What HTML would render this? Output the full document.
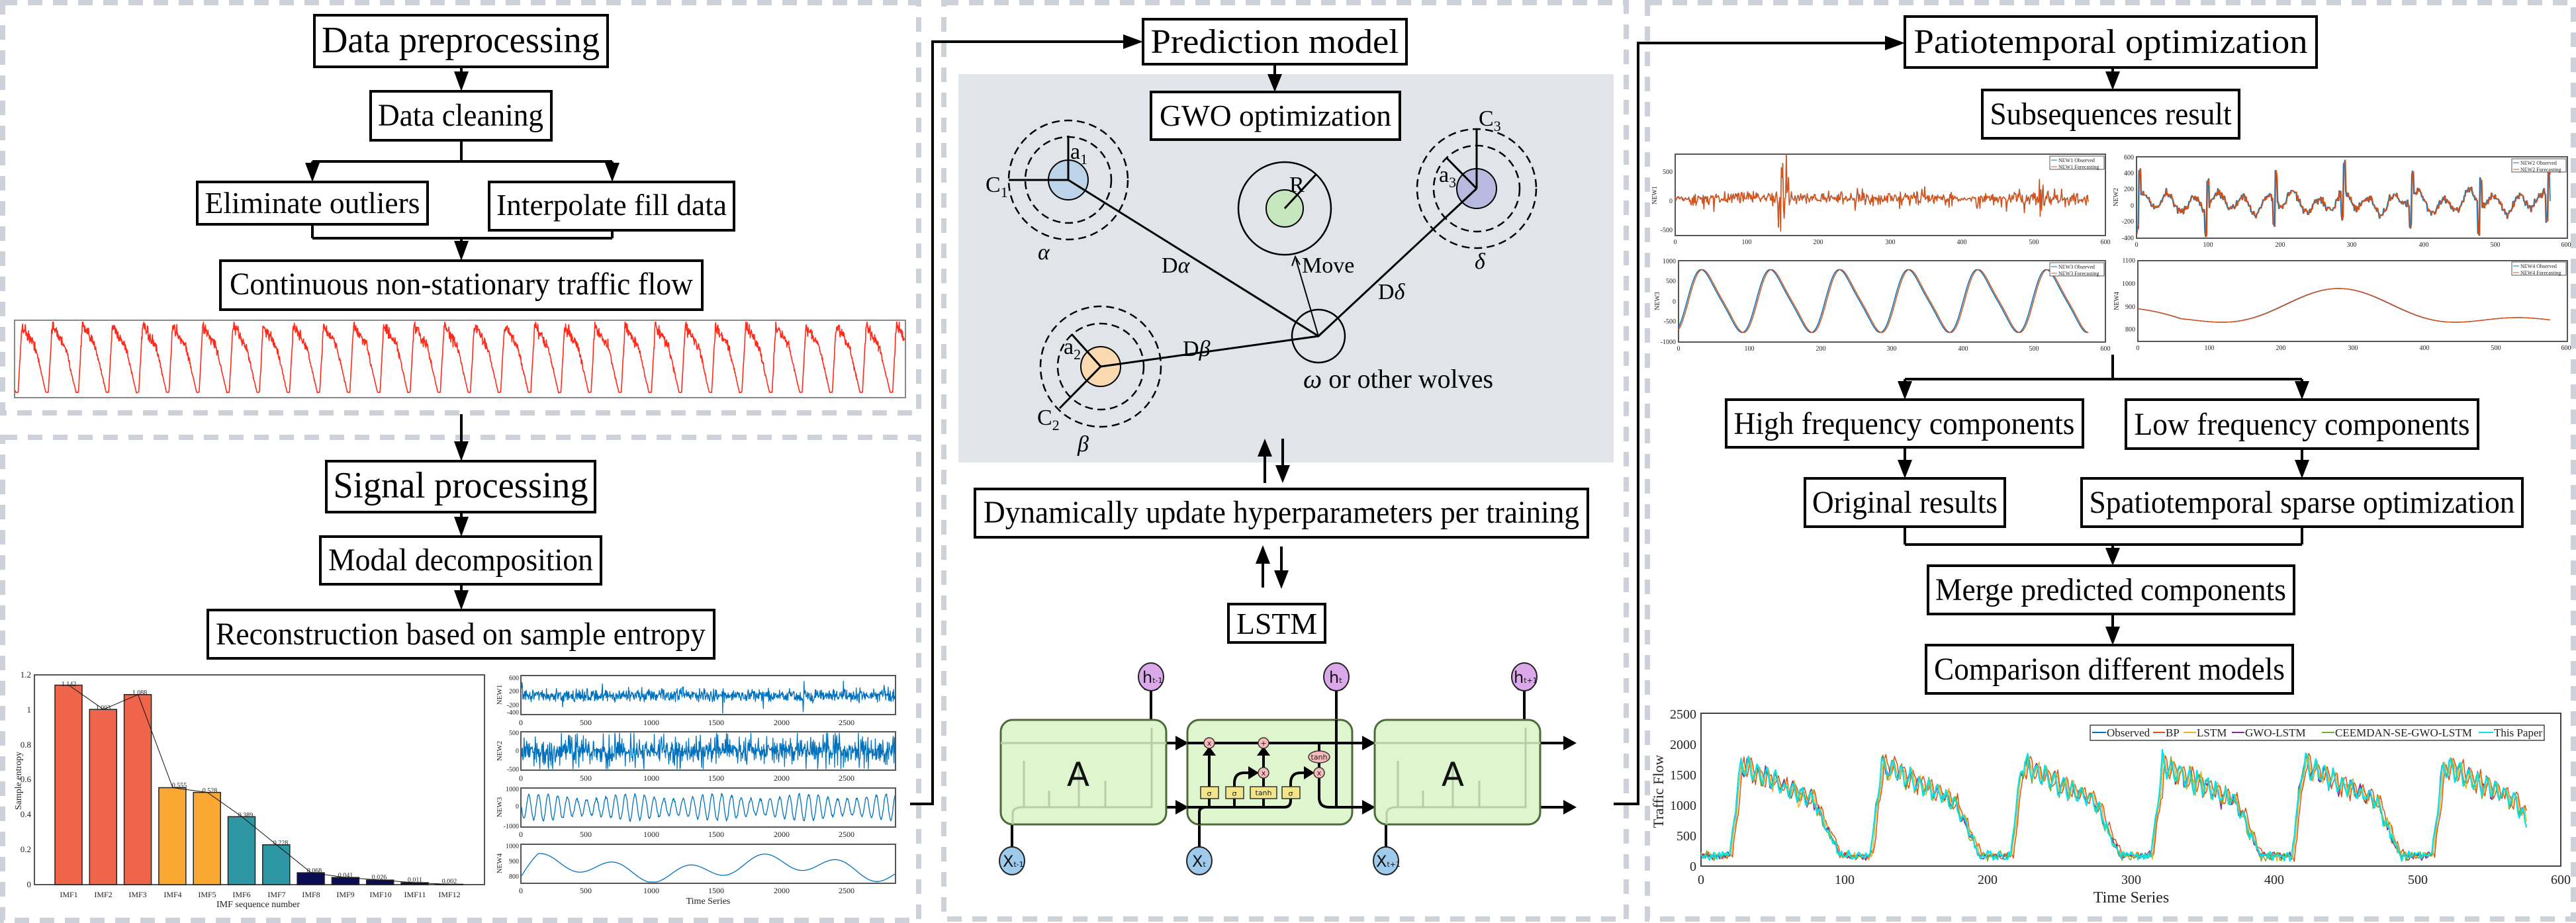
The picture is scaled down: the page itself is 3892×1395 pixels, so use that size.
<!DOCTYPE html>
<html><head><meta charset="utf-8"><style>
html,body{margin:0;padding:0;background:#fff;width:3892px;height:1395px;overflow:hidden}
svg{display:block}
svg text.t, svg text.sm, svg .t text, svg .sm text{font-family:"Liberation Serif","Times New Roman",Times,"Nimbus Roman","Noto Serif CJK SC","DejaVu Serif",serif !important}
.bx{fill:#fff;stroke:#000;stroke-width:4}
.t{fill:#000}
.sm{fill:#222}
.dash{fill:none;stroke:#cdd2da;stroke-width:8;stroke-dasharray:22 16}
.ln{stroke:#000;stroke-width:4;fill:none}
.ax{fill:none;stroke:#555;stroke-width:2}
</style></head><body>
<svg id="s" width="3892" height="1395" viewBox="0 0 3892 1395" xmlns="http://www.w3.org/2000/svg">
<rect class="dash" x="4" y="4" width="1384" height="620"/>
<rect class="dash" x="4" y="661" width="1384" height="730"/>
<rect class="dash" x="1426" y="4" width="1031" height="1385"/>
<rect class="dash" x="2489" y="4" width="1399" height="1385"/>

<rect x="1448" y="112" width="990" height="587" fill="#e1e4e9"/>

<g fill="#000">
<path d="M686,108 L708,108 L697,138 z"/>
<path d="M461,246 L483,246 L472,275 z"/>
<path d="M914,246 L936,246 L925,275 z"/>
<path d="M686,364 L708,364 L697,394 z"/>
<path d="M686,667 L708,667 L697,697 z"/>
<path d="M686,781 L708,781 L697,811 z"/>
<path d="M686,892 L708,892 L697,922 z"/>
<path d="M1697,52 L1727,63 L1697,74 z"/>
<path d="M1915,112 L1937,112 L1926,139 z"/>
<path d="M1900,690 L1922,690 L1911,663 z"/>
<path d="M1927,703 L1949,703 L1938,730 z"/>
<path d="M1897,852 L1919,852 L1908,824 z"/>
<path d="M1925,862 L1947,862 L1936,890 z"/>
<path d="M2848,54 L2878,65 L2848,76 z"/>
<path d="M3181,108 L3203,108 L3192,136 z"/>
<path d="M2867,576 L2889,576 L2878,604 z"/>
<path d="M3467,576 L3489,576 L3478,604 z"/>
<path d="M2867,695 L2889,695 L2878,723 z"/>
<path d="M3467,695 L3489,695 L3478,723 z"/>
<path d="M3181,828 L3203,828 L3192,855 z"/>
<path d="M3181,947 L3203,947 L3192,975 z"/>
</g>
<g class="ln">
<path d="M697,101 V110"/>
<path d="M697,212 V244 M472,244 H925 M472,244 V250 M925,244 V250"/>
<path d="M472,339 V360 M925,348 V360 M472,360 H925 M697,360 V368"/>
<path d="M697,626 V670"/>
<path d="M697,774 V785 M697,883 V895"/>
<path d="M1375,1215 H1409 V63 H1700"/>
<path d="M1926,97 V115"/>
<path d="M1911,688 V730 M1938,663 V705"/>
<path d="M1908,850 V888 M1936,826 V865"/>
<path d="M2438,1215 H2475 V65 H2850"/>
<path d="M3192,102 V112"/>
<path d="M3192,536 V573 M2878,573 H3478 M2878,573 V580 M3478,573 V580"/>
<path d="M2878,676 V700 M3478,678 V700"/>
<path d="M2878,796 V823 M3478,796 V823 M2878,823 H3478 M3192,823 V832"/>
<path d="M3192,928 V950"/>
</g>

<rect class="bx" x="475" y="23" width="443" height="78"/>
<text class="t" x="696" y="79" font-size="56" text-anchor="middle" textLength="420" lengthAdjust="spacingAndGlyphs">Data preprocessing</text>
<rect class="bx" x="560" y="138" width="273" height="74"/>
<text class="t" x="696" y="190" font-size="48" text-anchor="middle" textLength="250" lengthAdjust="spacingAndGlyphs">Data cleaning</text>
<rect class="bx" x="298" y="275" width="348" height="64"/>
<text class="t" x="472" y="322" font-size="46" text-anchor="middle" textLength="325" lengthAdjust="spacingAndGlyphs">Eliminate outliers</text>
<rect class="bx" x="739" y="275" width="370" height="73"/>
<text class="t" x="924" y="325" font-size="46" text-anchor="middle" textLength="348" lengthAdjust="spacingAndGlyphs">Interpolate fill data</text>
<rect class="bx" x="333" y="394" width="728" height="74"/>
<text class="t" x="697" y="445" font-size="48" text-anchor="middle" textLength="700" lengthAdjust="spacingAndGlyphs">Continuous non-stationary traffic flow</text>
<rect x="22" y="484" width="1346" height="117" fill="#fff" stroke="#888" stroke-width="2"/>
<g id="traffic"></g>

<rect class="bx" x="493" y="697" width="406" height="77"/>
<text class="t" x="696" y="752" font-size="56" text-anchor="middle" textLength="385" lengthAdjust="spacingAndGlyphs">Signal processing</text>
<rect class="bx" x="484" y="811" width="424" height="72"/>
<text class="t" x="696" y="862" font-size="48" text-anchor="middle" textLength="400" lengthAdjust="spacingAndGlyphs">Modal decomposition</text>
<rect class="bx" x="314" y="922" width="765" height="73"/>
<text class="t" x="696" y="974" font-size="48" text-anchor="middle" textLength="740" lengthAdjust="spacingAndGlyphs">Reconstruction based on sample entropy</text>

<rect class="ax" x="52" y="1020" width="680" height="317"/>
<g id="bars"></g>
<g class="sm" font-size="13" text-anchor="end">
<text x="47" y="1341">0</text><text x="47" y="1288">0.2</text><text x="47" y="1235">0.4</text><text x="47" y="1182">0.6</text><text x="47" y="1130">0.8</text><text x="47" y="1077">1</text><text x="47" y="1024">1.2</text>
</g>
<g class="sm" font-size="12" text-anchor="middle">
<text x="104" y="1356">IMF1</text><text x="156" y="1356">IMF2</text><text x="208" y="1356">IMF3</text><text x="261" y="1356">IMF4</text><text x="313" y="1356">IMF5</text><text x="365" y="1356">IMF6</text><text x="418" y="1356">IMF7</text><text x="470" y="1356">IMF8</text><text x="522" y="1356">IMF9</text><text x="575" y="1356">IMF10</text><text x="627" y="1356">IMF11</text><text x="679" y="1356">IMF12</text>
<text x="390" y="1371" font-size="14">IMF sequence number</text>
</g>
<g class="sm" font-size="10" text-anchor="middle">
<text x="104" y="1037">1.142</text><text x="156" y="1073">1.003</text><text x="211" y="1050">1.088</text><text x="271" y="1190">0.555</text><text x="317" y="1198">0.528</text><text x="371" y="1235">0.389</text><text x="424" y="1277">0.228</text><text x="475" y="1319">0.068</text><text x="522" y="1326">0.041</text><text x="573" y="1329">0.026</text><text x="627" y="1333">0.011</text><text x="679" y="1335">0.002</text>
</g>
<text class="sm" font-size="14" transform="translate(32,1180) rotate(-90)" text-anchor="middle">Sample entropy</text>

<rect class="ax" x="787" y="1021" width="566" height="59"/>
<rect class="ax" x="787" y="1106" width="566" height="58"/>
<rect class="ax" x="787" y="1191" width="566" height="59"/>
<rect class="ax" x="787" y="1276" width="566" height="59"/>
<g id="imfs"></g>
<g class="sm" font-size="12" text-anchor="middle">
<text x="787" y="1096">0</text><text x="885" y="1096">500</text><text x="984" y="1096">1000</text><text x="1082" y="1096">1500</text><text x="1181" y="1096">2000</text><text x="1279" y="1096">2500</text>
<text x="787" y="1180">0</text><text x="885" y="1180">500</text><text x="984" y="1180">1000</text><text x="1082" y="1180">1500</text><text x="1181" y="1180">2000</text><text x="1279" y="1180">2500</text>
<text x="787" y="1265">0</text><text x="885" y="1265">500</text><text x="984" y="1265">1000</text><text x="1082" y="1265">1500</text><text x="1181" y="1265">2000</text><text x="1279" y="1265">2500</text>
<text x="787" y="1350">0</text><text x="885" y="1350">500</text><text x="984" y="1350">1000</text><text x="1082" y="1350">1500</text><text x="1181" y="1350">2000</text><text x="1279" y="1350">2500</text>
<text x="1070" y="1366" font-size="14">Time Series</text>
</g>
<g class="sm" font-size="10" text-anchor="end">
<text x="784" y="1028">600</text><text x="784" y="1048">200</text><text x="784" y="1069">-200</text><text x="784" y="1080">-400</text>
<text x="784" y="1111">500</text><text x="784" y="1138">0</text><text x="784" y="1166">-500</text>
<text x="784" y="1196">1000</text><text x="784" y="1222">0</text><text x="784" y="1252">-1000</text>
<text x="784" y="1282">1000</text><text x="784" y="1305">900</text><text x="784" y="1328">800</text>
</g>
<g class="sm" font-size="11" text-anchor="middle">
<text transform="translate(758,1050) rotate(-90)">NEW1</text>
<text transform="translate(758,1135) rotate(-90)">NEW2</text>
<text transform="translate(758,1220) rotate(-90)">NEW3</text>
<text transform="translate(758,1305) rotate(-90)">NEW4</text>
</g>

<rect class="bx" x="1727" y="29" width="398" height="68"/>
<text class="t" x="1926" y="80" font-size="52" text-anchor="middle" textLength="375" lengthAdjust="spacingAndGlyphs">Prediction model</text>
<rect class="bx" x="1739" y="139" width="376" height="72"/>
<text class="t" x="1927" y="190" font-size="46" text-anchor="middle" textLength="350" lengthAdjust="spacingAndGlyphs">GWO optimization</text>
<g fill="none" stroke="#000" stroke-width="2.5">
<circle cx="1614" cy="272" r="65" stroke-dasharray="12 7"/><circle cx="1614" cy="272" r="90" stroke-dasharray="12 7"/>
<circle cx="2231" cy="285" r="65" stroke-dasharray="12 7"/><circle cx="2231" cy="285" r="90" stroke-dasharray="12 7"/>
<circle cx="1663" cy="554" r="65" stroke-dasharray="12 7"/><circle cx="1663" cy="554" r="91" stroke-dasharray="12 7"/>
<circle cx="1941" cy="315" r="70"/>
<circle cx="1992" cy="508" r="40"/>
</g>
<g stroke="#000" stroke-width="2">
<circle cx="1614" cy="272" r="30" fill="#bcd3ea"/>
<circle cx="2231" cy="285" r="30" fill="#b8b9de"/>
<circle cx="1663" cy="554" r="30" fill="#fad9b0"/>
<circle cx="1941" cy="315" r="28" fill="#c6e6bd"/>
</g>
<g stroke="#000" stroke-width="3" fill="none">
<path d="M1614,272 L1992,508 L2231,285 M1663,554 L1992,508"/>
<path d="M1614,272 H1524 M1614,272 V205"/>
<path d="M2231,285 V195 M2231,285 L2186,239"/>
<path d="M1663,554 L1619,505 M1663,554 L1601,617"/>
<path d="M1941,315 L1989,263"/>
<path d="M1992,508 L1958,392" stroke-width="2"/>
<path d="M1952,402 L1957,388 L1964,400" stroke-width="2"/>
</g>
<g class="t" font-size="34">
<text x="1489" y="290">C<tspan font-size="22" dy="8">1</tspan></text>
<text x="1617" y="240">a<tspan font-size="22" dy="8">1</tspan></text>
<text x="2234" y="190">C<tspan font-size="22" dy="8">3</tspan></text>
<text x="2174" y="275">a<tspan font-size="22" dy="8">3</tspan></text>
<text x="1607" y="535">a<tspan font-size="22" dy="8">2</tspan></text>
<text x="1567" y="642">C<tspan font-size="22" dy="8">2</tspan></text>
<text x="1948" y="290">R</text>
<text x="1967" y="412">Move</text>
<text x="1755" y="412">D<tspan font-style="italic">α</tspan></text>
<text x="1787" y="538">D<tspan font-style="italic">β</tspan></text>
<text x="2082" y="452">D<tspan font-style="italic">δ</tspan></text>
<text x="1568" y="392" font-style="italic">α</text>
<text x="2228" y="406" font-style="italic">δ</text>
<text x="1628" y="682" font-style="italic">β</text>
<text x="1969" y="586" font-size="40"><tspan font-style="italic">ω</tspan> or other wolves</text>
</g>
<rect class="bx" x="1473" y="739" width="926" height="73"/>
<text class="t" x="1936" y="790" font-size="48" text-anchor="middle" textLength="900" lengthAdjust="spacingAndGlyphs">Dynamically update hyperparameters per training</text>
<rect class="bx" x="1856" y="913" width="146" height="58"/>
<text class="t" x="1929" y="958" font-size="46" text-anchor="middle" textLength="122" lengthAdjust="spacingAndGlyphs">LSTM</text>

<g stroke="#000" stroke-width="4" fill="none">
<path d="M1739,1088 V1043 M2019,1088 V1043 M2303,1088 V1043"/>
<path d="M1529,1281 V1246 M1812,1281 V1246 M2094,1281 V1246"/>
<path d="M1762,1123 H1780 M1762,1220 H1780 M2043,1123 H2062 M2043,1220 H2062 M2327,1123 H2365 M2327,1220 H2365"/>
</g>
<g fill="#000">
<path d="M1729,1043 L1749,1043 L1739,1023 z"/><path d="M2009,1043 L2029,1043 L2019,1023 z"/><path d="M2293,1043 L2313,1043 L2303,1023 z"/>
<path d="M1776,1112 L1796,1123 L1776,1134 z"/><path d="M1776,1209 L1796,1220 L1776,1231 z"/>
<path d="M2058,1112 L2078,1123 L2058,1134 z"/><path d="M2058,1209 L2078,1220 L2058,1231 z"/>
<path d="M2362,1112 L2382,1123 L2362,1134 z"/><path d="M2362,1209 L2382,1220 L2362,1231 z"/>
</g>
<g stroke="#4d6b3a" stroke-width="3" fill="#d8f3c6" fill-opacity="0.85">
<rect x="1512" y="1088" width="250" height="158" rx="18"/>
<rect x="1794" y="1088" width="249" height="158" rx="18"/>
<rect x="2077" y="1088" width="250" height="158" rx="18"/>
</g>
<g stroke="#b9cbab" stroke-width="3" fill="none">
<path d="M1512,1123 H1762 M1530,1246 V1230 Q1530,1220 1545,1220 H1740 V1100 M1547,1220 V1150 M1585,1220 V1195 M1630,1220 V1150 M1670,1220 V1180"/>
<path d="M2077,1123 H2327 M2095,1246 V1230 Q2095,1220 2110,1220 H2305 V1100 M2112,1220 V1150 M2150,1220 V1195 M2195,1220 V1150 M2235,1220 V1180"/>
</g>
<g stroke="#000" stroke-width="4" fill="none">
<path d="M1794,1123 H2060 M1794,1220 H1940 Q1950,1220 1950,1210 V1184 Q1950,1168 1965,1168 H1976"/>
<path d="M1812,1246 V1228 Q1812,1220 1822,1220"/>
<path d="M1827,1220 V1136 M1865,1220 V1184 Q1865,1168 1880,1168 H1892 M1909,1220 V1136 M1993,1123 V1137 M1993,1152 V1205 Q1993,1220 2008,1220 H2060 M2019,1088 V1220"/>
</g>
<g fill="#000">
<path d="M1817,1142 L1837,1142 L1827,1128 z"/><path d="M1899,1142 L1919,1142 L1909,1128 z"/>
<path d="M1886,1158 L1902,1168 L1886,1178 z"/><path d="M1970,1158 L1986,1168 L1970,1178 z"/>
</g>
<g stroke="#333" stroke-width="1.5" fill="#f7b9b9">
<circle cx="1827" cy="1123" r="8"/><circle cx="1909" cy="1123" r="8"/><circle cx="1909" cy="1168" r="8"/><circle cx="1993" cy="1168" r="8"/>
<ellipse cx="1993" cy="1144" rx="16" ry="9"/>
</g>
<g stroke="#333" stroke-width="1.5" fill="#f3e58a">
<rect x="1814" y="1189" width="27" height="18"/><rect x="1852" y="1189" width="27" height="18"/><rect x="1889" y="1189" width="40" height="18"/><rect x="1937" y="1189" width="27" height="18"/>
</g>
<g font-family="DejaVu Sans,sans-serif" font-size="11" text-anchor="middle" fill="#222">
<text x="1827" y="1127">x</text><text x="1909" y="1127">+</text><text x="1909" y="1172">x</text><text x="1993" y="1172">x</text><text x="1993" y="1148">tanh</text>
<text x="1827" y="1203">σ</text><text x="1865" y="1203">σ</text><text x="1909" y="1202">tanh</text><text x="1950" y="1203">σ</text>
</g>
<g font-family="DejaVu Sans,sans-serif" font-size="50" text-anchor="middle" fill="#111">
<text x="1629" y="1188">A</text><text x="2195" y="1188">A</text>
</g>
<g stroke="#222" stroke-width="2">
<ellipse cx="1739" cy="1023" rx="19" ry="21" fill="#dba8ea"/><ellipse cx="2019" cy="1023" rx="19" ry="21" fill="#dba8ea"/><ellipse cx="2303" cy="1023" rx="19" ry="21" fill="#dba8ea"/>
<ellipse cx="1529" cy="1301" rx="19" ry="21" fill="#9ecbeb"/><ellipse cx="1812" cy="1301" rx="19" ry="21" fill="#9ecbeb"/><ellipse cx="2094" cy="1301" rx="19" ry="21" fill="#9ecbeb"/>
</g>
<g font-family="DejaVu Sans,sans-serif" fill="#111" font-size="24">
<text x="1726" y="1032">h<tspan font-size="11">t-1</tspan></text>
<text x="2008" y="1032">h<tspan font-size="11">t</tspan></text>
<text x="2287" y="1032">h<tspan font-size="11">t+1</tspan></text>
<text x="1515" y="1310">X<tspan font-size="11">t-1</tspan></text>
<text x="1801" y="1310">X<tspan font-size="11">t</tspan></text>
<text x="2079" y="1310">X<tspan font-size="11">t+1</tspan></text>
</g>

<rect class="bx" x="2878" y="25" width="622" height="77"/>
<text class="t" x="3189" y="80" font-size="52" text-anchor="middle" textLength="595" lengthAdjust="spacingAndGlyphs">Patiotemporal optimization</text>
<rect class="bx" x="2995" y="136" width="388" height="73"/>
<text class="t" x="3189" y="188" font-size="48" text-anchor="middle" textLength="365" lengthAdjust="spacingAndGlyphs">Subsequences result</text>
<rect class="ax" x="2531" y="233" width="650" height="123"/>
<rect class="ax" x="3228" y="237" width="651" height="123"/>
<rect class="ax" x="2536" y="394" width="645" height="123"/>
<rect class="ax" x="3230" y="394" width="649" height="122"/>
<g id="subs"></g>
<g class="sm" font-size="10" text-anchor="middle">
<text x="2531" y="369">0</text><text x="2639" y="369">100</text><text x="2747" y="369">200</text><text x="2856" y="369">300</text><text x="2964" y="369">400</text><text x="3073" y="369">500</text><text x="3181" y="369">600</text>
<text x="3228" y="373">0</text><text x="3336" y="373">100</text><text x="3445" y="373">200</text><text x="3553" y="373">300</text><text x="3662" y="373">400</text><text x="3770" y="373">500</text><text x="3877" y="373">600</text>
<text x="2536" y="530">0</text><text x="2643" y="530">100</text><text x="2751" y="530">200</text><text x="2858" y="530">300</text><text x="2966" y="530">400</text><text x="3073" y="530">500</text><text x="3181" y="530">600</text>
<text x="3230" y="529">0</text><text x="3338" y="529">100</text><text x="3446" y="529">200</text><text x="3555" y="529">300</text><text x="3663" y="529">400</text><text x="3771" y="529">500</text><text x="3877" y="529">600</text>
</g>
<g class="sm" font-size="10" text-anchor="end">
<text x="2527" y="263">500</text><text x="2527" y="307">0</text><text x="2527" y="351">-500</text>
<text x="3224" y="241">600</text><text x="3224" y="265">400</text><text x="3224" y="289">200</text><text x="3224" y="314">0</text><text x="3224" y="338">-200</text><text x="3224" y="363">-400</text>
<text x="2532" y="398">1000</text><text x="2532" y="428">500</text><text x="2532" y="459">0</text><text x="2532" y="489">-500</text><text x="2532" y="520">-1000</text>
<text x="3226" y="397">1100</text><text x="3226" y="432">1000</text><text x="3226" y="467">900</text><text x="3226" y="501">800</text>
</g>
<g class="sm" font-size="10" text-anchor="middle">
<text transform="translate(2503,295) rotate(-90)">NEW1</text>
<text transform="translate(3200,298) rotate(-90)">NEW2</text>
<text transform="translate(2507,455) rotate(-90)">NEW3</text>
<text transform="translate(3201,455) rotate(-90)">NEW4</text>
</g>
<g class="sm" font-size="8">
<rect x="3097" y="236" width="82" height="20" fill="#fff" stroke="#555"/><path d="M3099,242 H3108" stroke="#0072bd"/><path d="M3099,252 H3108" stroke="#d95319"/><text x="3110" y="245">NEW1 Observed</text><text x="3110" y="255">NEW1 Forecasting</text>
<rect x="3795" y="240" width="82" height="20" fill="#fff" stroke="#555"/><path d="M3797,246 H3806" stroke="#0072bd"/><path d="M3797,256 H3806" stroke="#d95319"/><text x="3808" y="249">NEW2 Observed</text><text x="3808" y="259">NEW2 Forecasting</text>
<rect x="3097" y="397" width="82" height="20" fill="#fff" stroke="#555"/><path d="M3099,403 H3108" stroke="#0072bd"/><path d="M3099,413 H3108" stroke="#d95319"/><text x="3110" y="406">NEW3 Observed</text><text x="3110" y="416">NEW3 Forecasting</text>
<rect x="3795" y="396" width="82" height="20" fill="#fff" stroke="#555"/><path d="M3797,402 H3806" stroke="#0072bd"/><path d="M3797,412 H3806" stroke="#d95319"/><text x="3808" y="405">NEW4 Observed</text><text x="3808" y="415">NEW4 Forecasting</text>
</g>

<rect class="bx" x="2608" y="604" width="539" height="72"/>
<text class="t" x="2877" y="656" font-size="48" text-anchor="middle" textLength="515" lengthAdjust="spacingAndGlyphs">High frequency components</text>
<rect class="bx" x="3212" y="604" width="532" height="74"/>
<text class="t" x="3478" y="657" font-size="48" text-anchor="middle" textLength="507" lengthAdjust="spacingAndGlyphs">Low frequency components</text>
<rect class="bx" x="2727" y="723" width="302" height="73"/>
<text class="t" x="2878" y="775" font-size="48" text-anchor="middle" textLength="280" lengthAdjust="spacingAndGlyphs">Original results</text>
<rect class="bx" x="3145" y="723" width="666" height="73"/>
<text class="t" x="3478" y="775" font-size="48" text-anchor="middle" textLength="643" lengthAdjust="spacingAndGlyphs">Spatiotemporal sparse optimization</text>
<rect class="bx" x="2913" y="855" width="553" height="73"/>
<text class="t" x="3189" y="907" font-size="48" text-anchor="middle" textLength="530" lengthAdjust="spacingAndGlyphs">Merge predicted components</text>
<rect class="bx" x="2910" y="975" width="554" height="73"/>
<text class="t" x="3187" y="1027" font-size="48" text-anchor="middle" textLength="530" lengthAdjust="spacingAndGlyphs">Comparison different models</text>

<rect x="2570" y="1078" width="1299" height="231" fill="#fff" stroke="#444" stroke-width="2"/>
<g id="comp"></g>
<g class="sm" font-size="20" text-anchor="end">
<text x="2563" y="1316">0</text><text x="2563" y="1270">500</text><text x="2563" y="1224">1000</text><text x="2563" y="1178">1500</text><text x="2563" y="1132">2000</text><text x="2563" y="1086">2500</text>
</g>
<g class="sm" font-size="20" text-anchor="middle">
<text x="2570" y="1336">0</text><text x="2787" y="1336">100</text><text x="3003" y="1336">200</text><text x="3220" y="1336">300</text><text x="3436" y="1336">400</text><text x="3653" y="1336">500</text><text x="3869" y="1336">600</text>
<text x="3220" y="1364" font-size="24">Time Series</text>
</g>
<text class="sm" font-size="22" transform="translate(2513,1196) rotate(-90)" text-anchor="middle">Traffic Flow</text>
<rect x="3158" y="1096" width="686" height="23" fill="#fff" stroke="#444" stroke-width="1.5"/>
<g stroke-width="2">
<path d="M3161,1107 H3182" stroke="#0072bd"/><path d="M3253,1107 H3271" stroke="#d95319"/><path d="M3299,1107 H3318" stroke="#edb120"/><path d="M3372,1107 H3391" stroke="#7e2f8e"/><path d="M3508,1107 H3527" stroke="#77ac30"/><path d="M3745,1107 H3767" stroke="#00e5ee"/>
</g>
<g class="sm" font-size="17">
<text x="3183" y="1113">Observed</text><text x="3272" y="1113">BP</text><text x="3319" y="1113">LSTM</text><text x="3392" y="1113">GWO-LSTM</text><text x="3528" y="1113">CEEMDAN-SE-GWO-LSTM</text><text x="3768" y="1113">This Paper</text>
</g>
</svg>
<script>
(function(){
var NS='http://www.w3.org/2000/svg';
var seed=12345;function r(){seed=(seed*16807)%2147483647;return seed/2147483647;}
function n(){return r()+r()+r()-1.5;}
function pl(g,pts,col,w){var p=document.createElementNS(NS,'polyline');var s=[];for(var i=0;i<pts.length;i++)s.push(pts[i][0].toFixed(1)+','+pts[i][1].toFixed(1));p.setAttribute('points',s.join(' '));p.setAttribute('fill','none');p.setAttribute('stroke',col);p.setAttribute('stroke-width',w);p.setAttribute('stroke-linejoin','round');document.getElementById(g).appendChild(p);}
function rect(g,x,y,w,h,f){var p=document.createElementNS(NS,'rect');p.setAttribute('x',x);p.setAttribute('y',y);p.setAttribute('width',w);p.setAttribute('height',h);p.setAttribute('fill',f);p.setAttribute('stroke','#222');p.setAttribute('stroke-width',1.5);document.getElementById(g).appendChild(p);}
function shape(p){if(p<0.08)return p/0.08;if(p<0.6)return 1-0.4*(p-0.08)/0.52;if(p<0.78)return 0.6*(1-(p-0.6)/0.18);return 0;}
function tshape(p){if(p<0.12)return 0.05+0.95*p/0.12;if(p<0.55)return 1-0.3*(p-0.12)/0.43;if(p<0.92)return 0.7*(1-(p-0.55)/0.37)+0.02;return 0.03;}
var pts=[],N=2400,per=N/29.5;
for(var i=0;i<N;i++){var p=((i+per*0.9)%per)/per;var v=tshape(p);v+=n()*0.1*v;pts.push([23+i*(1344/N),596-Math.max(0,Math.min(1.05,v))*104]);}
pl('traffic',pts,'#ff2a1a',1.6);
var vals=[1.142,1.003,1.088,0.555,0.528,0.389,0.228,0.068,0.041,0.026,0.011,0.002];
var cols=['#ef654b','#ef654b','#ef654b','#fba832','#fba832','#2e97a3','#2e97a3','#0c0c55','#0c0c55','#0c0c55','#0c0c55','#0c0c55'];
var tops=[];
for(var k=0;k<12;k++){var cx=104+52.3*k,h=vals[k]*264;rect('bars',cx-21,1337-h,41,h,cols[k]);tops.push([cx,1337-h]);}
pl('bars',tops,'#111',1);
function imf(y0,y1,f,col){var a=[];for(var i=0;i<=900;i++){a.push([788+i*564/900,Math.max(y0+2,Math.min(y1-2,f(i)))]);}pl('imfs',a,col,1.3);}
imf(1021,1080,function(i){var b=(i%97<3)?3:1;return 1051+n()*9*b;},'#0072bd');
imf(1106,1164,function(i){return 1135+Math.sin(i*0.9)*n()*30+n()*4;},'#0072bd');
imf(1191,1250,function(i){return 1220+Math.sin(i*0.27)*20*(0.8+0.2*Math.sin(i*0.03))+n()*2;},'#0072bd');
imf(1276,1335,function(i){return 1312-Math.sin(i*0.035)*12-Math.sin(i*0.011+1)*10+(i<40?(40-i)*0.5:0);},'#0072bd');
function sub(x0,x1,f,lag){var a=[],b=[];for(var i=0;i<=576;i++){var x=x0+i*(x1-x0)/600;a.push([x,f(i)]);b.push([x,f(i-lag)]);}pl('subs',a,'#0072bd',1.5);pl('subs',b,'#d95319',1.5);}
seed=999;var z1=[];for(var i=0;i<=600;i++){var amp=8;if(i>140&&i<160)amp=40;if(i>505&&i<515)amp=40;if(i<20||(i>390&&i<420))amp=3;z1.push(n()*amp*(r()<0.3?2:1));}
sub(2531,3181,function(i){i=Math.max(0,Math.round(i));return 300+z1[i];},0);
seed=555;var z2=[];for(var i=0;i<=600;i++){var e=0;if(i%95<6)e=(i%95<3?-1:1)*40;z2.push(Math.sin(i*0.18)*(8+6*Math.abs(Math.sin(i*0.05)))+n()*6+e+Math.sin(i*0.07)*6);}
sub(3228,3879,function(i){i=Math.max(0,Math.round(i));return 306-z2[i];},1);
sub(2536,3181,function(i){return 455-Math.sin((i-12)*2*Math.PI/97)*45-Math.sin((i-12)*4*Math.PI/97)*8;},2);
sub(3230,3879,function(i){return 470+Math.cos((i-30)*2*Math.PI/500)*22-Math.cos((i-30)*2*Math.PI/250)*12+(i<60?(i-60)*0.25:0);},1);
seed=77;var base=[];for(var i=0;i<=600;i++){var p=((i-20+98*5)%98)/98;var v=shape(p);base.push(170+1650*v*(0.9+0.1*Math.sin(i))+n()*60*(v>0.05?1:0.2));}
var cc=['#0072bd','#d95319','#edb120','#7e2f8e','#77ac30','#00e5ee'];
for(var m=0;m<6;m++){var a=[];var lag=[0,2,1,0,0,0][m];for(var i=0;i<=576;i++){var j=Math.max(0,i-lag);var v=base[j]+n()*(m==0?0:70);v=Math.max(0,Math.min(2450,v));a.push([2570+i*1299/600,1309-v*231/2500]);}pl('comp',a,cc[m],m==5?2.2:1.5);}
})();
</script>
</body></html>
